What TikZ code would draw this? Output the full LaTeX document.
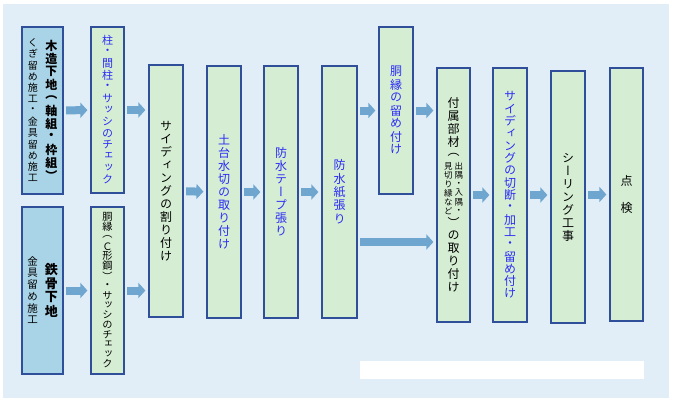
\documentclass[tikz,border=0pt]{standalone}
\usepackage{fontspec}
\usetikzlibrary{arrows.meta}
\newfontfamily\jp[RawFeature=+vert]{Noto Sans CJK JP}

\definecolor{haikei}{HTML}{E1EEF7}
\definecolor{kisoblue}{HTML}{A9D3E6}
\definecolor{koteigreen}{HTML}{D5EED3}
\definecolor{waku}{HTML}{2F4F9A}
\definecolor{yajirushi}{HTML}{6FA6D0}
\definecolor{aoji}{HTML}{2B2BF5}

% 縦書き: 1文字ずつ積む
\newlength\tpitch
\makeatletter
\def\tate#1{\vbox{\offinterlineskip\tate@#1\@nil}}
\def\tate@#1{\ifx#1\@nil\else\hbox to\tpitch{\hss\vbox to\tpitch{\vss\hbox{#1}\vss}\hss}\expandafter\tate@\fi}
\makeatother
\newcommand\tsize[2]{\fontsize{#1}{#2}\selectfont\setlength\tpitch{#2}}

\tikzset{
  box/.style={draw=waku, line width=1.2pt, inner sep=0pt, font=\jp\tsize{12pt}{13pt}},
  kiso/.style={box, fill=kisoblue, minimum width=41pt, minimum height=167pt},
  kotei/.style={box, fill=koteigreen, minimum width=34pt},
  aomoji/.style={text=aoji},
  flow/.style={draw=yajirushi, line width=8pt, -{Triangle[length=7pt,width=15pt]},
    shorten <=2.5pt, shorten >=3pt}
}

\begin{document}
\begin{tikzpicture}[x=1pt, y=-1pt]
    \useasboundingbox (0,0) rectangle (673,400);
    % 背景
    \fill[haikei] (3,4) rectangle (669,398);
    \fill[white] (360,361) rectangle (644,379);

    % 下地
    \node[kiso] (mokuzo) at (42.5,110.5)
      {$\vcenter{\tsize{10pt}{11.3pt}\tate{くぎ留め施工・金具留め施工}}\hskip6.5pt\vcenter{\bfseries\tate{木造下地（軸組・枠組）}}$};
    \node[kiso] (tekkotsu) at (42.5,290.5)
      {$\vcenter{\tsize{10.5pt}{11.7pt}\tate{金具留め施工}}\hskip6pt\vcenter{\bfseries\tsize{13pt}{14pt}\tate{鉄骨下地}}$};

    % チェック
    \node[kotei, aomoji, minimum width=33pt, minimum height=166pt] (chk1) at (107.5,110)
      {\tsize{11pt}{11.6pt}\tate{柱・間柱・サッシのチェック}};
    \node[kotei, minimum width=33pt, minimum height=167pt] (chk2) at (107.5,290.5)
      {\tsize{10.2pt}{9.8pt}\tate{胴縁（Ｃ形鋼）・サッシのチェック}};

    % 工程
    \node[kotei, minimum height=252pt] (waritsuke) at (166,191) {\tate{サイディングの割り付け}};
    \node[kotei, aomoji, minimum height=252pt] (mizukiri) at (224,192) {\tate{土台水切の取り付け}};
    \node[kotei, aomoji, minimum height=252pt] (tape) at (281,192) {\tate{防水テープ張り}};
    \node[kotei, aomoji, minimum width=35pt, minimum height=252pt] (bousui) at (339.5,192)
      {\tsize{12pt}{13.5pt}\tate{防水紙張り}};
    \node[kotei, aomoji, minimum height=167pt] (dobuchi) at (396,110.5) {\tate{胴縁の留め付け}};
    \node[kotei, minimum width=33pt, minimum height=254pt] (fuzoku) at (453.5,195)
      {\vbox{\offinterlineskip\tate{付属部材（}\hbox to\tpitch{\hss\tsize{8.5pt}{9pt}\tate{見切り縁など}\hskip1.5pt\tate{出隅・入隅・}\hss}\tate{）の取り付け}}};
    \node[kotei, aomoji, minimum height=254pt] (setsudan) at (510,195)
      {\tsize{12pt}{12.3pt}\tate{サイディングの切断・加工・留め付け}};
    \node[kotei, minimum height=252pt] (sealing) at (568,197) {\tate{シーリング工事}};
    \node[kotei, minimum width=33pt, minimum height=253pt] (tenken) at (626.5,194.5)
      {\tsize{12pt}{13.5pt}\tate{点　検}};

    % 矢印
    \coordinate (shita) at (0,242);
    \draw[flow] (mokuzo) -- (chk1);
    \draw[flow] (chk1) -- (chk1 -| waritsuke.west);
    \draw[flow] (tekkotsu) -- (chk2);
    \draw[flow] (chk2) -- (chk2 -| waritsuke.west);
    \draw[flow] (waritsuke) -- (mizukiri);
    \draw[flow] (mizukiri) -- (tape);
    \draw[flow] (tape) -- (bousui);
    \draw[flow] (bousui.east |- dobuchi) -- (dobuchi);
    \draw[flow] (dobuchi) -- (dobuchi -| fuzoku.west);
    \draw[flow] (bousui.east |- shita) -- (fuzoku.west |- shita);
    \draw[flow] (fuzoku) -- (setsudan);
    \draw[flow] (setsudan) -- (setsudan -| sealing.west);
    \draw[flow] (sealing.east |- tenken) -- (tenken);
\end{tikzpicture}
\end{document}
